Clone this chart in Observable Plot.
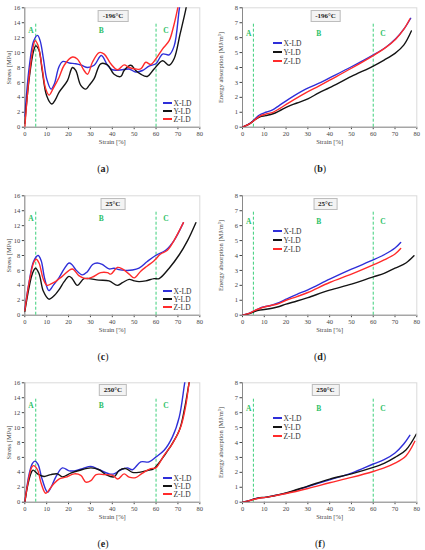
<!DOCTYPE html>
<html>
<head>
<meta charset="utf-8">
<script src="https://cdn.jsdelivr.net/npm/d3@7"></script>
<script src="https://cdn.jsdelivr.net/npm/@observablehq/plot@0.6"></script>
<style>
  html, body { margin: 0; padding: 0; background: #fff; }
  #wrap { position: relative; width: 425px; height: 550px; overflow: hidden; background: #fff; font-family: "Liberation Serif", serif; }
  .panel { position: absolute; }
  .tbox { position: absolute; transform: translate(-50%, -50%); border: 1px solid #bdbdbd; background: #f3f3f3; font-weight: bold; font-size: 7px; padding: 1px 4px; color: #222; white-space: nowrap; }
  .leg { position: absolute; font-size: 7.5px; color: #333; white-space: nowrap; }
  .leg .sw { position: absolute; height: 2px; width: 9px; top: -1px; left: 0; }
  .leg span.t { position: absolute; transform: translateY(-50%); left: 10.5px; top: 0; }
  .cap { position: absolute; transform: translate(-50%, -50%); font-size: 10px; color: #222; }
</style>
</head>
<body>
<div id="wrap"></div>
<script>
// ---------- shared labels / ticks ----------
const series = ["X-LD", "Y-LD", "Z-LD"];
const seriesColors = ["#2f2fd8", "#141414", "#ff2b2b"];
const strainTicks = [0, 10, 20, 30, 40, 50, 60, 70, 80];
const stressTicks = [0, 2, 4, 6, 8, 10, 12, 14, 16];
const energyTicks = [0, 1, 2, 3, 4, 5, 6, 7, 8];
const phaseBounds = [5, 60];
const phaseLabels = ["A", "B", "C"];
const phaseLabelStrain = [2.8, 35, 64.5];
const temps = ["-196°C", "25°C", "250°C"];
const captions = ["a", "b", "c", "d", "e", "f"];

// ---------- stress data (strain %, MPa) ----------
const stressCold_X = [[0,1.5],[2,8],[4,11.5],[5.8,12.3],[7,11.6],[8.5,9.2],[10,6.5],[12,5.1],[13.5,5.8],[15.5,8.0],[17.2,8.8],[20.3,8.6],[23.3,8.5],[26,8.3],[28.7,8.0],[31.7,8.3],[35,9.6],[37.8,8.3],[40,7.7],[44.6,7.7],[47.7,7.8],[50.7,7.4],[53.8,7.6],[56.8,8.2],[59.9,8.5],[63,9.8],[66,9.7],[68.3,10.9],[70.6,15.8],[71.5,17.5]];
const stressCold_Y = [[0,0.5],[2,6.5],[4,10.2],[5,10.9],[6.5,10.3],[8,7.5],[10,4.2],[12.3,3.1],[14,3.7],[15.7,4.7],[19.5,6.25],[21.8,8.0],[23.3,7.6],[25.6,5.6],[27.9,5.1],[29.4,5.6],[31.7,6.5],[34.7,8.5],[37.8,8.35],[40.8,7.1],[43.9,6.8],[45.4,7.6],[48.5,8.3],[50.7,7.6],[53,7.1],[56,6.8],[59.1,7.8],[63,8.9],[66,8.3],[68.3,9.2],[71,12.5],[73.6,15.8],[74.5,17.2]];
const stressCold_Z = [[0,0],[2,6.8],[4,11.0],[4.7,11.6],[6,11.0],[8,7.8],[9.5,5.2],[11.1,4.3],[13,5.2],[15.7,6.7],[18,8.3],[21.8,9.4],[24,9.15],[27.1,7.6],[28.7,7.1],[30.9,8.7],[34,10.0],[36.3,9.8],[39.3,8.5],[42.4,7.7],[45.4,8.35],[47.7,8.0],[50.7,7.8],[53,7.8],[55.3,8.7],[57.6,8.4],[59.9,9.15],[63,10.5],[66,11.6],[68,13.5],[69.8,15.8],[70.6,17]];

const stressRoom_X = [[0,0.8],[2,4.5],[4,7.2],[6.1,8.0],[7.5,7.3],[9,5.0],[11,3.3],[13,4.0],[15.6,5.0],[18,6.2],[20.2,7.0],[21.5,6.8],[23.3,6.1],[26.3,5.4],[28.5,5.8],[31,6.8],[33.1,7.0],[35.4,6.8],[38.5,6.2],[40.8,6.3],[43,6.1],[46.1,6.0],[49.2,6.05],[52.2,6.3],[56,7.2],[59.8,8.0],[64.4,8.7],[68.2,10.0],[72.5,12.4]];
const stressRoom_Y = [[0,0.5],[2,3.8],[3.5,5.6],[4.9,6.3],[6.5,5.6],[8.5,3.2],[11,2.15],[13,2.5],[15.6,3.4],[18,4.5],[20.2,5.2],[21.7,4.9],[24,4.0],[27,4.9],[29.3,4.9],[33.8,4.7],[38.5,4.6],[42.3,4.0],[44.6,4.35],[47.7,4.8],[50,4.6],[52.2,4.5],[55.3,4.6],[59.1,4.9],[61.4,4.9],[66,6.3],[70.6,8.1],[74.4,10.0],[78.2,12.4]];
const stressRoom_Z = [[0,0.6],[2,4.4],[4,7.0],[5.2,7.5],[6.5,7.0],[8.5,4.8],[10.2,4.0],[12,4.2],[14,4.5],[17.1,5.2],[21.7,6.2],[24.7,5.3],[27.8,4.9],[30.8,5.1],[34.7,5.7],[37.8,5.7],[39.3,5.5],[42.3,6.4],[44.6,6.2],[47.7,5.5],[50,5.0],[53,5.9],[56,6.6],[59.1,7.3],[62.1,8.2],[65.2,8.7],[68.2,10.0],[72.5,12.4]];

const stressHot_X = [[0,0],[2,3.8],[3.5,5.2],[4.6,5.5],[6,5.1],[8,3.0],[10.4,1.35],[12,2.0],[14.2,3.4],[17.2,4.6],[20.3,4.2],[22.6,4.2],[26.4,4.5],[30.2,4.8],[34,4.35],[38.6,3.8],[40.8,3.8],[43.9,4.35],[46.9,4.6],[49.2,4.35],[53,5.4],[56.8,5.4],[59.9,6.05],[63.7,6.95],[67.5,8.75],[70.6,11.4],[73.1,16],[74,17.5]];
const stressHot_Y = [[0,0],[1.5,2.5],[3,4.0],[3.8,4.3],[5.8,3.8],[8.8,3.45],[11.9,3.7],[14.9,3.8],[17.2,3.4],[21,3.9],[24.8,4.25],[30.2,4.6],[34,4.35],[37.1,3.7],[40.8,3.4],[43.1,4.25],[46.1,4.5],[49.2,4.0],[52.2,4.0],[56,4.25],[59,4.5],[62.2,5.6],[66,7.2],[70.6,9.6],[73,12.5],[75.1,16],[76,17.5]];
const stressHot_Z = [[0,0],[2,3.5],[3.2,4.7],[4,4.9],[5.8,4.35],[7.5,2.5],[9.6,1.2],[12.6,2.25],[15.6,3.1],[18.7,3.35],[22.6,3.8],[25.6,3.6],[27.9,2.7],[30.2,2.9],[32.6,3.7],[36.4,3.7],[40.2,3.6],[42.5,3.1],[45.4,3.8],[47.7,3.35],[50.7,3.3],[53.8,3.9],[57.6,4.5],[59.9,4.6],[63.7,6.3],[67.5,7.85],[71.3,10.1],[73.5,12.8],[75.1,16],[76,17.5]];

// ---------- energy absorption data (strain %, MJ/m3) ----------
const energyCold_X = [[0,0],[3,0.22],[5.35,0.5],[7.6,0.8],[10.7,1.0],[13.8,1.16],[16.8,1.45],[21.4,1.9],[29,2.55],[36,3.0],[40,3.3],[50,4.05],[60.1,4.85],[65.8,5.36],[70.3,5.92],[74.2,6.6],[77.2,7.3]];
const energyCold_Y = [[0,0],[3,0.2],[5.3,0.45],[8,0.7],[10.7,0.78],[14,0.9],[17,1.1],[21,1.4],[25,1.62],[30,1.9],[35,2.3],[40,2.65],[50,3.4],[60,4.1],[65,4.5],[70,4.95],[74,5.5],[77.5,6.45]];
const energyCold_Z = [[0,0],[3,0.2],[5.3,0.45],[8,0.75],[10.7,0.88],[14,1.0],[17,1.25],[21.4,1.65],[29,2.3],[35,2.75],[40,3.15],[50,3.95],[60,4.8],[65.8,5.35],[70.3,5.9],[74,6.55],[76.8,7.25]];

const energyRoom_X = [[0,0],[3,0.12],[5.5,0.3],[8,0.48],[10,0.56],[13,0.65],[16,0.8],[20,1.07],[25,1.4],[30,1.7],[40,2.41],[50,3.08],[60,3.7],[65,4.05],[70,4.5],[72.6,4.87]];
const energyRoom_Y = [[0,0],[3,0.1],[5.5,0.25],[8,0.35],[10,0.38],[13,0.45],[16,0.55],[20,0.74],[25,0.95],[30,1.18],[40,1.68],[50,2.08],[60,2.57],[65,2.8],[70,3.15],[75,3.5],[78.7,3.98]];
const energyRoom_Z = [[0,0],[3,0.12],[5.5,0.3],[8,0.45],[10,0.55],[13,0.65],[16,0.75],[20,1.0],[25,1.25],[30,1.52],[40,2.19],[50,2.75],[60,3.37],[65,3.7],[70,4.1],[72.6,4.47]];

const energyHot_X = [[0,0],[3,0.1],[5.5,0.22],[8,0.3],[10,0.31],[15,0.45],[20,0.6],[30,1.05],[40,1.5],[50,1.95],[60,2.56],[65,2.85],[70,3.3],[74,3.9],[76.8,4.48]];
const energyHot_Y = [[0,0],[3,0.1],[5.5,0.22],[8,0.3],[10,0.32],[15,0.45],[20,0.62],[30,1.08],[40,1.55],[50,1.9],[60,2.33],[65,2.6],[70,3.0],[75,3.5],[79.8,4.57]];
const energyHot_Z = [[0,0],[3,0.1],[5.5,0.2],[8,0.28],[10,0.31],[15,0.44],[20,0.58],[30,0.92],[40,1.3],[50,1.66],[60,2.06],[65,2.3],[70,2.62],[75,3.1],[79.1,4.08]];

const stressSets = [[stressCold_X, stressCold_Y, stressCold_Z], [stressRoom_X, stressRoom_Y, stressRoom_Z], [stressHot_X, stressHot_Y, stressHot_Z]];
const energySets = [[energyCold_X, energyCold_Y, energyCold_Z], [energyRoom_X, energyRoom_Y, energyRoom_Z], [energyHot_X, energyHot_Y, energyHot_Z]];

// ---------- layout ----------
const rowTop = [0, 188, 374.5];
const wrap = document.getElementById("wrap");

function toRows(sets) {
  const rows = [];
  sets.forEach((arr, i) => arr.forEach(([x, y]) => rows.push({x, y, s: series[i]})));
  return rows;
}

function panel(kind, row) {
  const isStress = kind === "stress";
  const sets = isStress ? stressSets[row] : energySets[row];
  const yMax = isStress ? 16 : 8;
  const phaseTop = isStress ? 13.9 : 7;
  const phaseY = isStress ? 12.9 : 6.3;
  const width = isStress ? 212 : 213;
  const chart = Plot.plot({
    width, height: 150,
    marginLeft: isStress ? 24.3 : 30,
    marginRight: isStress ? 12.7 : 8.7,
    marginTop: 7.3, marginBottom: 23.3,
    style: {fontFamily: "Liberation Serif, serif", fontSize: "6.5px", background: "transparent", color: "#444"},
    x: {domain: [0, 80], ticks: strainTicks, tickSize: 2.5, tickPadding: 2, label: "Strain [%]", labelAnchor: "center", labelOffset: 17, labelArrow: "none"},
    y: {domain: [0, yMax], ticks: isStress ? stressTicks : energyTicks, tickSize: 2.5, tickPadding: 2,
        label: isStress ? "Stress [MPa]" : "Energy absorption [MJ/m³]", labelAnchor: "center", labelOffset: isStress ? 18.5 : 24, labelArrow: "none"},
    color: {domain: series, range: seriesColors},
    marks: [
      Plot.frame({stroke: "#dadada"}),
      Plot.ruleY([0], {stroke: "#8a8a8a"}),
      Plot.ruleX([0], {stroke: "#8a8a8a"}),
      Plot.ruleX(phaseBounds, {y1: 0, y2: phaseTop, stroke: "#3ccf7a", strokeWidth: 1, strokeDasharray: "3,2"}),
      Plot.text(phaseLabels, {x: (d, i) => phaseLabelStrain[i], y: phaseY, text: d => d, fill: "#2bbf66", fontWeight: "bold", fontSize: 7.5}),
      Plot.line(toRows(sets), {x: "x", y: "y", z: "s", stroke: "s", curve: "catmull-rom", strokeWidth: 1.4, clip: true})
    ]
  });
  const div = document.createElement("div");
  div.className = "panel";
  div.style.left = (isStress ? 0 : 212) + "px";
  div.style.top = rowTop[row] + "px";
  div.appendChild(chart);
  wrap.appendChild(div);

  // temperature box
  const tb = document.createElement("div");
  tb.className = "tbox";
  tb.textContent = temps[row];
  tb.style.left = (isStress ? 113 : 325.5) + "px";
  tb.style.top = (rowTop[row] + 15.5) + "px";
  wrap.appendChild(tb);

  // legend
  const lx = isStress ? 163 : 273;
  const ly = isStress ? [103, 111, 119] : [43, 52, 61];
  series.forEach((s, i) => {
    const lg = document.createElement("div");
    lg.className = "leg";
    lg.style.left = lx + "px";
    lg.style.top = Math.round(rowTop[row] + ly[i]) + "px";
    const sw = document.createElement("div");
    sw.className = "sw";
    sw.style.background = seriesColors[i];
    const t = document.createElement("span");
    t.className = "t";
    t.textContent = s;
    lg.appendChild(sw); lg.appendChild(t);
    wrap.appendChild(lg);
  });

  // caption
  const cp = document.createElement("div");
  cp.className = "cap";
  cp.innerHTML = "(<b>" + captions[row * 2 + (isStress ? 0 : 1)] + "</b>)";
  cp.style.left = (isStress ? 103 : 320) + "px";
  cp.style.top = (rowTop[row] + 168) + "px";
  wrap.appendChild(cp);
}

for (let r = 0; r < 3; r++) { panel("stress", r); panel("energy", r); }
</script>
</body>
</html>
